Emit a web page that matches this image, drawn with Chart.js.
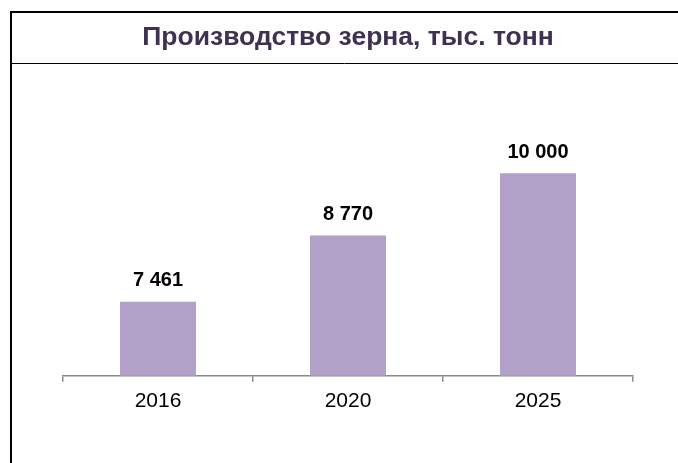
<!DOCTYPE html>
<html>
<head>
<meta charset="utf-8">
<script src="https://cdn.jsdelivr.net/npm/chart.js@4"></script>
<style>
  html, body { margin: 0; padding: 0; background: #fff; }
  #wrap { width: 678px; height: 463px; position: relative; }
</style>
</head>
<body>
<div id="wrap"><canvas id="grainChart"></canvas></div>
<script>
// Производство зерна, тыс. тонн
const years = ['2016', '2020', '2025'];
const grain = [7461, 8770, 10000];

const titleText = 'Производство зерна, тыс. тонн';
const barColor = '#b1a0c7';

// рамка вокруг заголовка (линии как на слайде)
const frame = {
  id: 'frame',
  beforeDraw(chart) {
    const c = chart.ctx;
    c.save();
    c.strokeStyle = '#000';
    c.lineWidth = 2;
    c.beginPath();
    c.moveTo(10, 12); c.lineTo(678, 12);
    c.moveTo(11, 12); c.lineTo(11, 463);
    c.stroke();
    c.lineWidth = 1;
    c.beginPath();
    c.moveTo(11, 63.5); c.lineTo(678, 63.5);
    c.stroke();
    c.restore();
  },
};

// подписи значений над столбцами
const valueLabels = {
  id: 'valueLabels',
  afterDatasetsDraw(chart) {
    const c = chart.ctx;
    const meta = chart.getDatasetMeta(0);
    c.save();
    c.font = 'bold 20px "Liberation Sans", Arial, sans-serif';
    c.fillStyle = '#000';
    c.textAlign = 'center';
    c.textBaseline = 'middle';
    meta.data.forEach((bar, i) => {
      const txt = grain[i].toLocaleString('ru-RU').replace(/\s/g, ' ');
      c.fillText(txt, bar.x, bar.y - 21);
    });
    c.restore();
  },
};

new Chart(document.getElementById('grainChart'), {
  type: 'bar',
  data: {
    labels: years,
    datasets: [{
      data: grain,
      backgroundColor: barColor,
      borderWidth: 0,
      categoryPercentage: 1,
      barPercentage: 0.4,
    }],
  },
  options: {
    responsive: true,
    maintainAspectRatio: false,
    animation: false,
    layout: { padding: { left: 63, right: 45, top: 0, bottom: 42 } },
    plugins: {
      legend: { display: false },
      tooltip: { enabled: false },
      title: {
        display: true,
        text: titleText,
        color: '#3f3151',
        font: { family: '"Liberation Sans", Arial, sans-serif', size: 26.5, weight: 'bold', lineHeight: 1.2 },
        padding: { top: 22, bottom: 18.2 },
      },
    },
    scales: {
      x: {
        grid: { display: true, drawOnChartArea: false, drawTicks: true, tickLength: 6, color: '#898989', lineWidth: 1.5 },
        border: { display: true, color: '#898989', width: 1.5 },
        ticks: {
          color: '#000',
          padding: 7,
          font: { family: '"Liberation Sans", Arial, sans-serif', size: 21 },
        },
      },
      y: { display: false, min: 6000, max: 12000 },
    },
  },
  plugins: [frame, valueLabels],
});
</script>
</body>
</html>
